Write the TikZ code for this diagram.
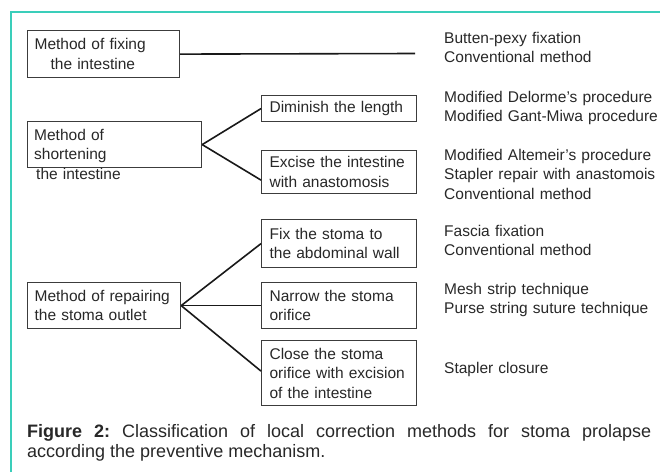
\documentclass[tikz,border=0pt]{standalone}
\usepackage{fontspec}
\setmainfont{Liberation Sans}
\definecolor{frameteal}{RGB}{58,206,186}
\definecolor{boxgray}{RGB}{60,60,60}
\definecolor{linegray}{RGB}{25,25,25}
\definecolor{txtgray}{RGB}{40,40,40}
\frenchspacing
\begin{document}
\begin{tikzpicture}[x=1pt,y=-1pt,
  pbox/.style={draw=boxgray, line width=1.2pt, anchor=north west, inner ysep=0pt,
    align=left, text=txtgray, font=\fontsize{15.5}{19.5}\selectfont},
  txt/.style={anchor=base west, inner sep=0pt, align=left, text width=214pt, text=txtgray,
    font=\fontsize{15.5}{19.5}\selectfont},
  conn/.style={draw=linegray, line width=1.6pt},
  frameline/.style={draw=frameteal, line width=1.4pt}]
\useasboundingbox (0,0) rectangle (660,472);
\fill[white] (0,0) rectangle (660,472);
\draw[frameline] (11,472) -- (11,12) -- (660,12);

% left boxes
\node[pbox, minimum width=152pt, minimum height=47pt, text width=138pt, inner xsep=7pt] (fixb) at (27,30)
  {Method of fixing\\\hspace*{16pt}the intestine};
\node[pbox, minimum width=174pt, minimum height=46pt, inner sep=0pt] (shortb) at (27,121) {};
\node[txt, text width=160pt] (shortt) at (34,140) {Method of\\shortening\\\hspace*{2pt}the intestine};
\node[pbox, minimum width=153pt, minimum height=46pt, text width=139pt, inner xsep=7pt] (repb) at (27,282)
  {Method of repairing\\the stoma outlet};

% middle boxes
\node[pbox, minimum width=155pt, minimum height=26pt, text width=139pt, inner xsep=8pt] (dimb) at (261,95)
  {Diminish the length};
\node[pbox, minimum width=155pt, minimum height=43pt, text width=139pt, inner xsep=8pt] (excb) at (261,150)
  {Excise the intestine\\with anastomosis};
\node[pbox, minimum width=155pt, minimum height=48pt, text width=139pt, inner xsep=8pt] (fsb) at (261,219)
  {Fix the stoma to\\the abdominal wall};
\node[pbox, minimum width=155pt, minimum height=46pt, text width=139pt, inner xsep=8pt] (narb) at (261,282)
  {Narrow the stoma\\orifice};
\node[pbox, minimum width=155pt, minimum height=65pt, text width=139pt, inner xsep=8pt] (clob) at (261,340)
  {Close the stoma\\orifice with excision\\of the intestine};

% right column
\node[txt] (r1) at (444,43) {Butten-pexy fixation\\Conventional method};
\node[txt] (r2) at (444,102) {Modified Delorme's procedure\\Modified Gant-Miwa procedure};
\node[txt] (r3) at (444,160) {Modified Altemeir's procedure\\Stapler repair with anastomois\\Conventional method};
\node[txt] (r4) at (444,236) {Fascia fixation\\Conventional method};
\node[txt] (r5) at (444,294) {Mesh strip technique\\Purse string suture technique};
\node[txt] (r6) at (444,373) {Stapler closure};

% connectors
\coordinate (fixend) at (415,53.5);
\draw[conn] (fixb.east) -- (fixend);
\draw[conn] (shortb.east) -- (dimb.west);
\draw[conn] (shortb.east) -- ([yshift=-8pt]excb.west);
\draw[conn] (repb.east) -- (fsb.west);
\draw[conn] (repb.east) -- (narb.west);
\draw[conn] (repb.east) -- ([yshift=2pt]clob.west);

% caption
\node[anchor=base west, inner sep=0pt, text width=624pt, align=justify, text=txtgray,
  font=\fontsize{18}{20.5}\selectfont] (cap) at (27,437)
  {\textbf{Figure 2:} Classification of local correction methods for stoma prolapse\linebreak according the preventive mechanism.};
\end{tikzpicture}
\end{document}
